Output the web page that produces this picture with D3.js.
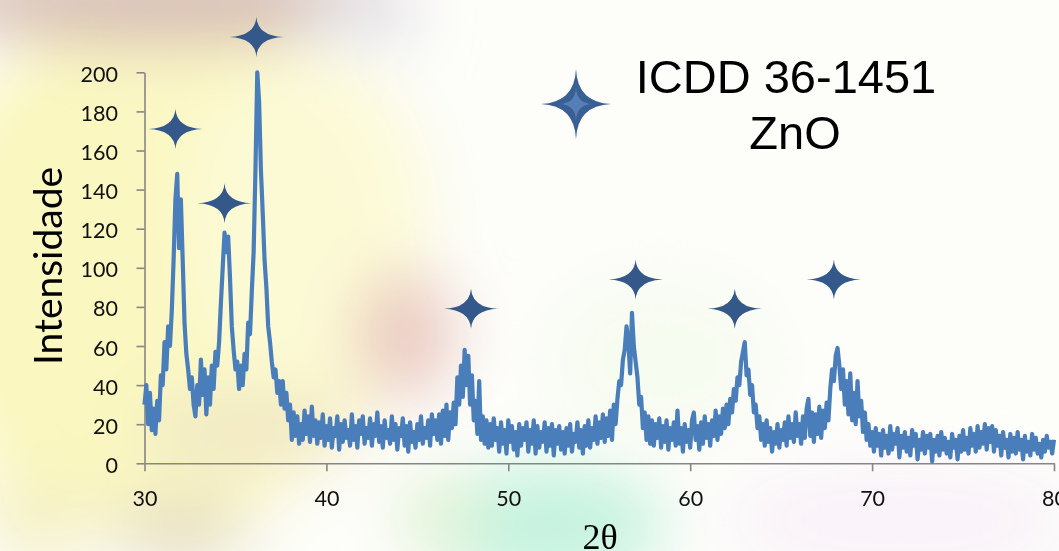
<!DOCTYPE html>
<html>
<head>
<meta charset="utf-8">
<script src="https://cdn.jsdelivr.net/npm/d3@7"></script>
<style>
  html, body { margin: 0; padding: 0; background: #fff; }
  svg { display: block; }
</style>
</head>
<body>
<svg id="chart" width="1059" height="551"></svg>
<script>
// ---- data ----
const angleStart = 30;
const angleStep = 0.1;
const intensity = [
  30, 40, 20, 36, 17, 28, 15, 32, 22, 45,
  40, 62, 48, 70, 60, 78, 104, 135, 148, 110,
  135, 104, 72, 56, 48, 38, 44, 30, 24, 40,
  30, 53, 35, 48, 25, 44, 30, 50, 38, 57,
  50, 62, 82, 100, 118, 108, 116, 95, 70, 58,
  48, 52, 38, 50, 40, 56, 48, 72, 66, 88,
  108, 150, 200, 185, 150, 128, 104, 90, 70, 62,
  52, 44, 48, 36, 42, 30, 42, 28, 36, 22,
  30, 12, 26, 14, 24, 10, 20, 12, 27, 15,
  24, 11, 29, 14, 22, 10, 21, 13, 25, 9,
  19, 12, 23, 8, 18, 14, 24, 7, 20, 11,
  22, 13, 17, 9, 25, 12, 19, 8, 22, 15,
  24, 10, 18, 13, 23, 9, 20, 14, 26, 11,
  19, 8, 22, 13, 17, 10, 24, 12, 20, 7,
  18, 14, 23, 9, 19, 6, 21, 11, 16, 8,
  20, 12, 24, 10, 18, 13, 22, 9, 25, 15,
  22, 12, 25, 10, 27, 14, 30, 12, 26, 18,
  31, 20, 44, 30, 50, 34, 58, 40, 55, 30,
  45, 22, 32, 15, 42, 12, 24, 10, 22, 8,
  20, 9, 23, 12, 18, 6, 21, 10, 17, 5,
  22, 11, 19, 7, 16, 4, 20, 9, 18, 12,
  21, 6, 17, 10, 22, 5, 19, 8, 16, 11,
  21, 6, 18, 9, 20, 4, 17, 10, 19, 7,
  16, 5, 18, 9, 20, 6, 15, 11, 21, 8,
  17, 5, 19, 9, 22, 8, 18, 12, 24, 10,
  21, 13, 25, 11, 23, 14, 27, 12, 30, 20,
  33, 42, 40, 53, 58, 70, 62, 46, 77, 60,
  52, 44, 30, 34, 18, 26, 12, 24, 10, 22,
  9, 20, 13, 23, 8, 19, 11, 22, 7, 18,
  12, 21, 9, 27, 10, 18, 6, 20, 11, 17,
  8, 22, 26, 12, 19, 7, 21, 10, 24, 13,
  20, 9, 22, 14, 27, 12, 24, 15, 28, 18,
  30, 20, 33, 26, 38, 32, 44, 40, 52, 57,
  62, 45, 48, 35, 40, 26, 30, 18, 24, 12,
  20, 9, 22, 11, 18, 6, 16, 10, 20, 8,
  17, 12, 21, 9, 24, 13, 20, 11, 26, 14,
  20, 10, 24, 13, 28, 33, 14, 26, 11, 25,
  15, 29, 13, 27, 18, 31, 22, 38, 48, 42,
  55, 59, 50, 38, 48, 30, 42, 25, 46, 22,
  36, 20, 42, 24, 32, 16, 26, 12, 20, 9,
  16, 6, 18, 9, 15, 4, 17, 8, 14, 5,
  19, 7, 15, 10, 18, 3, 14, 8, 16, 6,
  13, 4, 17, 9, 15, 2, 12, 7, 16, 5,
  14, 8, 15, 1, 12, 6, 14, 4, 16, 7,
  13, 5, 11, 3, 15, 8, 12, 2, 14, 6,
  17, 7, 13, 5, 18, 9, 15, 6, 19, 8,
  16, 10, 20, 7, 18, 11, 19, 6, 17, 9,
  14, 4, 16, 8, 12, 3, 15, 6, 13, 5,
  16, 7, 12, 2, 14, 6, 11, 4, 15, 7,
  13, 5, 10, 3, 12, 6, 14, 8, 11, 5,
  12
];
const xTicks = [30, 40, 50, 60, 70, 80];
const yTicks = [0, 20, 40, 60, 80, 100, 120, 140, 160, 180, 200];
const markerAngles = [31.7, 34.4, 36.15, 47.95, 57.0, 62.45, 67.9];
const markerLevels = [171, 133, 218, 79, 94, 79, 94];
const legendLines = ["ICDD 36-1451", "ZnO"];
const xTitle = "2θ";
const yTitle = "Intensidade";

// ---- drawing ----
const svg = d3.select("#chart");
const W = 1059, H = 551;
const plot = { left: 144.5, right: 1054, top: 72.3, bottom: 463.3 };

// blurred photographic-looking background
const defs = svg.append("defs");
defs.append("filter").attr("id", "bgblur")
  .attr("x", "-50%").attr("y", "-50%").attr("width", "200%").attr("height", "200%")
  .append("feGaussianBlur").attr("stdDeviation", 30);

const bg = svg.append("g");
bg.append("rect").attr("width", W).attr("height", H).attr("fill", "#fdfdfa");
const blobs = bg.append("g").attr("filter", "url(#bgblur)");
const blobSpecs = [
  { cx: 160, cy: 270, rx: 240, ry: 260, c: "#fbf8c6", o: 1 },
  { cx: 60, cy: 300, rx: 110, ry: 240, c: "#faf6bd", o: 0.7 },
  { cx: 310, cy: 220, rx: 120, ry: 170, c: "#fcfad6", o: 0.9 },
  { cx: 170, cy: 2, rx: 240, ry: 44, c: "#d8c0b6", o: 1 },
  { cx: 360, cy: 20, rx: 60, ry: 28, c: "#e6e7ef", o: 0.9 },
  { cx: 405, cy: 335, rx: 50, ry: 65, c: "#eac9c1", o: 0.95 },
  { cx: 250, cy: 430, rx: 110, ry: 40, c: "#efe7c4", o: 0.9 },
  { cx: 540, cy: 525, rx: 125, ry: 60, c: "#c6f3df", o: 1 },
  { cx: 440, cy: 515, rx: 45, ry: 40, c: "#e4f2d4", o: 0.85 },
  { cx: 180, cy: 530, rx: 70, ry: 32, c: "#e2dabb", o: 0.9 },
  { cx: 40, cy: 520, rx: 60, ry: 40, c: "#f4f0c4", o: 0.9 },
  { cx: 900, cy: 520, rx: 170, ry: 50, c: "#f8f1fa", o: 0.9 },
  { cx: 660, cy: 360, rx: 110, ry: 80, c: "#f5fbee", o: 0.8 }
];
blobs.selectAll("ellipse").data(blobSpecs).join("ellipse")
  .attr("cx", d => d.cx).attr("cy", d => d.cy)
  .attr("rx", d => d.rx).attr("ry", d => d.ry)
  .attr("fill", d => d.c).attr("opacity", d => d.o);

// scales
const x = d3.scaleLinear().domain([30, 80]).range([plot.left, plot.right]);
const y = d3.scaleLinear().domain([0, 200]).range([plot.bottom, plot.top]);

const axisColor = "#868686";
const labelFont = "Lato, 'Open Sans', sans-serif";

// y axis
const gy = svg.append("g").attr("transform", `translate(${plot.left},0)`)
  .call(d3.axisLeft(y).tickValues(yTicks).tickSize(8).tickSizeOuter(0).tickPadding(18.5));
gy.select(".domain").attr("stroke", axisColor).attr("stroke-width", 1.6);
gy.selectAll(".tick line").attr("stroke", axisColor).attr("stroke-width", 1.6);
gy.selectAll(".tick text").attr("fill", "#111").attr("font-family", labelFont)
  .attr("font-size", 21.5).attr("dy", "0.42em");

// x axis
const gx = svg.append("g").attr("transform", `translate(0,${plot.bottom})`)
  .call(d3.axisBottom(x).tickValues(xTicks).tickSize(8).tickSizeOuter(0).tickPadding(19));
gx.select(".domain").attr("stroke", axisColor).attr("stroke-width", 1.6);
gx.selectAll(".tick line").attr("stroke", axisColor).attr("stroke-width", 1.6);
gx.selectAll(".tick text").attr("fill", "#111").attr("font-family", labelFont)
  .attr("font-size", 21.5);

// data line
const pts = intensity.map((v, i) => [angleStart + i * angleStep, v]);
const line = d3.line().x(d => x(d[0])).y(d => y(d[1]));
svg.append("path").datum(pts)
  .attr("d", line)
  .attr("fill", "none")
  .attr("stroke", "#4a7ebb")
  .attr("stroke-width", 4.2)
  .attr("stroke-linejoin", "round");

// four-point star marker
function starPath(w, h, a) {
  const hw = w / 2, hh = h / 2;
  return `M${-hw},0 Q${-a},${-a} 0,${-hh} Q${a},${-a} ${hw},0 Q${a},${a} 0,${hh} Q${-a},${a} ${-hw},0 Z`;
}
const starColor = "#345889";
svg.append("g").selectAll("path").data(markerAngles).join("path")
  .attr("transform", (d, i) => `translate(${x(d)},${y(markerLevels[i])})`)
  .attr("d", starPath(54, 40, 1.2))
  .attr("fill", starColor);

// legend
const lg = svg.append("g").attr("transform", "translate(576,104)");
lg.append("path").attr("d", starPath(70, 70, 1.5)).attr("fill", "#3a5f94");
lg.append("path").attr("d", starPath(34, 34, 0.3)).attr("fill", "#6b95cf").attr("opacity", 0.6);

svg.append("g").selectAll("text").data(legendLines).join("text")
  .attr("x", (d, i) => i === 0 ? 786 : 795)
  .attr("y", (d, i) => 93 + i * 56)
  .attr("text-anchor", "middle")
  .attr("font-family", "'Liberation Sans', Arial, sans-serif")
  .attr("font-size", 47)
  .attr("fill", "#000")
  .text(d => d);

// axis titles
svg.append("text")
  .attr("transform", "translate(62,266) rotate(-90)")
  .attr("text-anchor", "middle")
  .attr("font-family", labelFont)
  .attr("font-size", 39)
  .attr("fill", "#000")
  .text(yTitle);

svg.append("text")
  .attr("x", 600).attr("y", 549)
  .attr("text-anchor", "middle")
  .attr("font-family", "'Liberation Serif', 'Times New Roman', serif")
  .attr("font-size", 36)
  .attr("fill", "#000")
  .text(xTitle);
</script>
</body>
</html>
